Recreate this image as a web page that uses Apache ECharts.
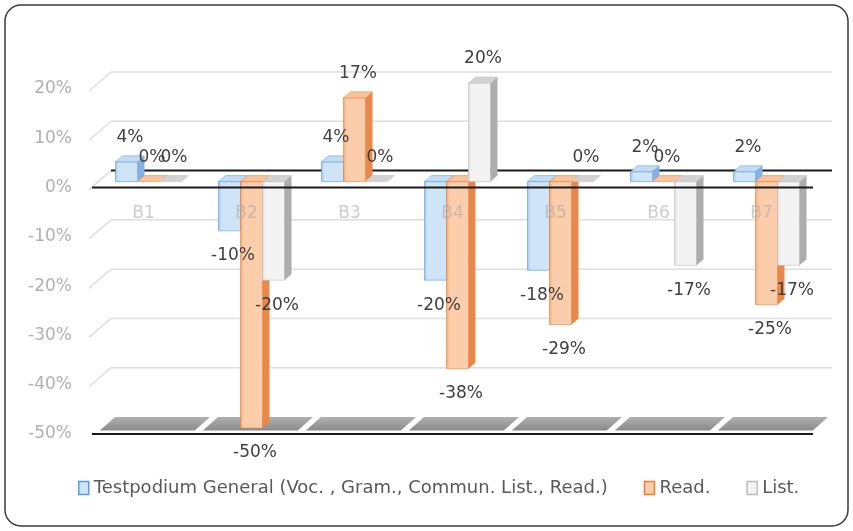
<!DOCTYPE html>
<html>
<head>
<meta charset="utf-8">
<script src="https://cdn.jsdelivr.net/npm/echarts@6/dist/echarts.min.js"></script>
<style>
  html, body { margin: 0; padding: 0; background: #fff; }
  #chart { width: 853px; height: 531px; }
</style>
</head>
<body>
<div id="chart"></div>
<script>
const categories = ["B1", "B2", "B3", "B4", "B5", "B6", "B7"];
const generalValues = [4, -10, 4, -20, -18, 2, 2];
const readValues = [0, -50, 17, -38, -29, 0, -25];
const listValues = [0, -20, 0, 20, 0, -17, -17];
const yTicks = [20, 10, 0, -10, -20, -30, -40, -50];
const seriesNames = [
  "Testpodium General (Voc. , Gram., Commun. List., Read.)",
  "Read.",
  "List.",
];

const FONT = "DejaVu Sans";
const Y_MIN = yTicks[yTicks.length - 1];
const Y_MAX = yTicks[0];
// depth offsets of the fake 3d look
const WALL_DX = 19, WALL_DY = -17;   // back wall
const BAR_DX = 5, BAR_DY = -6;       // bars sit in the middle
const SIDE_DX = 7, SIDE_DY = -6;     // bar thickness
const BAR_W = 22;
const GRID = { left: 92, right: 40, top: 89, bottom: 97 };

const palette = [
  { front: ["#9cc5ee", "#d0e4f8"], side: "#83b1e1", top: "#c3dcf4", edge: "#5b9bd5" },
  { front: ["#f4a46d", "#fbcdab"], side: "#e8884a", top: "#f9c39c", edge: "#ed7d31" },
  { front: ["#dedede", "#f3f3f3"], side: "#adadad", top: "#d2d2d2", edge: "#bdbdbd" },
];

function barBox(k, api) {
  const i = api.value(0);
  const v = api.value(1);
  const p0 = api.coord([i, 0]);
  const p1 = api.coord([i, v]);
  const x0 = p0[0] + BAR_DX - (BAR_W * 3) / 2 + k * BAR_W;
  return {
    v: v,
    x0: x0,
    x1: x0 + BAR_W,
    yTop: Math.min(p0[1], p1[1]) + BAR_DY,
    yBot: Math.max(p0[1], p1[1]) + BAR_DY,
  };
}

function barRenderer(k) {
  const c = palette[k];
  return function (params, api) {
    const b = barBox(k, api);
    const children = [];
    if (b.yBot - b.yTop > 0.5) {
      children.push({
        type: "rect",
        shape: { x: b.x0, y: b.yTop, width: BAR_W, height: b.yBot - b.yTop },
        style: {
          fill: new echarts.graphic.LinearGradient(0, 0, 1, 0, [
            { offset: 0, color: c.front[0] },
            { offset: 0.15, color: c.front[1] },
            { offset: 1, color: c.front[1] },
          ]),
          stroke: c.edge,
          lineWidth: 0.6,
        },
      });
      children.push({
        type: "polygon",
        shape: {
          points: [
            [b.x1, b.yTop], [b.x1 + SIDE_DX, b.yTop + SIDE_DY],
            [b.x1 + SIDE_DX, b.yBot + SIDE_DY], [b.x1, b.yBot],
          ],
        },
        style: { fill: c.side },
      });
    }
    children.push({
      type: "polygon",
      shape: {
        points: [
          [b.x0, b.yTop], [b.x0 + SIDE_DX, b.yTop + SIDE_DY],
          [b.x1 + SIDE_DX, b.yTop + SIDE_DY], [b.x1, b.yTop],
        ],
      },
      style: { fill: c.top, stroke: c.edge, lineWidth: 0.5 },
    });
    return { type: "group", children: children };
  };
}

function labelRenderer(k) {
  return function (params, api) {
    const b = barBox(k, api);
    return {
      type: "text",
      style: {
        text: b.v + "%",
        x: b.x0 + (BAR_W + SIDE_DX) / 2,
        y: b.v < 0 ? b.yBot + 25 : b.yTop + SIDE_DY - 18,
        align: "center",
        verticalAlign: "middle",
        fill: "#404040",
        fontSize: 17,
        fontFamily: FONT,
      },
    };
  };
}

function wallRenderer(params, api) {
  const v = api.value(1);
  const cs = params.coordSys;
  const y = api.coord([0, v])[1];
  const children = [];
  if (v === Y_MIN) {
    return { type: "group", children: children };
  }
  children.push({
    type: "line",
    shape: { x1: cs.x - 3, y1: y + 2, x2: cs.x + WALL_DX, y2: y + WALL_DY },
    style: { stroke: "#dedede", lineWidth: 1.5 },
  });
  children.push({
    type: "line",
    shape: {
      x1: cs.x + WALL_DX, y1: y + WALL_DY,
      x2: cs.x + cs.width + WALL_DX, y2: y + WALL_DY,
    },
    style: v === 0 ? { stroke: "#1a1a1a", lineWidth: 2 } : { stroke: "#dedede", lineWidth: 1.5 },
  });
  return { type: "group", children: children };
}

function floorRenderer(params, api) {
  const i = api.value(0);
  const p = api.coord([i, api.value(1)]);
  const w = api.size([1, 0])[0];
  const a = 0.2, b = 1.0;
  const xl = p[0] - w / 2 + 4, xr = p[0] + w / 2 - 4;
  return {
    type: "polygon",
    shape: {
      points: [
        [xl + WALL_DX * a, p[1] + WALL_DY * a],
        [xl + WALL_DX * b, p[1] + WALL_DY * b],
        [xr + WALL_DX * b, p[1] + WALL_DY * b],
        [xr + WALL_DX * a, p[1] + WALL_DY * a],
      ],
    },
    style: {
      fill: new echarts.graphic.LinearGradient(0, 1, 0, 0, [
        { offset: 0, color: "#8a8a8a" },
        { offset: 1, color: "#b0b0b0" },
      ]),
    },
  };
}

function frontLineRenderer(params, api) {
  const cs = params.coordSys;
  const y = api.coord([0, api.value(1)])[1];
  return {
    type: "line",
    shape: { x1: cs.x, y1: y, x2: cs.x + cs.width, y2: y },
    style: { stroke: "#1a1a1a", lineWidth: 2 },
  };
}

const chart = echarts.init(document.getElementById("chart"));

const allValues = [generalValues, readValues, listValues];

const barSeries = allValues.map(function (vals, k) {
  return {
    name: seriesNames[k],
    type: "custom",
    z: 3,
    clip: false,
    renderItem: barRenderer(k),
    itemStyle: { color: palette[k].edge },
    encode: { x: 0, y: 1 },
    data: vals.map(function (v, i) { return [i, v]; }),
  };
});

const labelSeries = allValues.map(function (vals, k) {
  return {
    type: "custom",
    z: 6,
    silent: true,
    clip: false,
    renderItem: labelRenderer(k),
    encode: { x: 0, y: 1 },
    data: vals.map(function (v, i) { return [i, v]; }),
  };
});

// put the category labels on the 0 line
const gridH = 531 - GRID.top - GRID.bottom;
const zeroOffset = -((0 - Y_MIN) / (Y_MAX - Y_MIN)) * gridH;

chart.setOption({
  animation: false,
  textStyle: { fontFamily: FONT },
  graphic: [
    {
      type: "rect",
      shape: { x: 5, y: 5, width: 843, height: 521, r: 16 },
      style: { fill: "none", stroke: "#3a3a3a", lineWidth: 1.5 },
      z: 0,
    },
  ],
  grid: GRID,
  legend: {
    left: 73,
    top: 474,
    itemGap: 36,
    itemWidth: 10,
    itemHeight: 13,
    textStyle: { color: "#595959", fontSize: 18, fontFamily: FONT },
    data: seriesNames.map(function (n, k) {
      return {
        name: n,
        icon: "rect",
        itemStyle: { color: palette[k].front[1], borderColor: palette[k].edge, borderWidth: 1.5 },
      };
    }),
  },
  xAxis: {
    type: "category",
    data: categories,
    offset: zeroOffset,
    z: 4,
    axisLine: { show: false },
    axisTick: { show: false },
    axisLabel: { color: "rgba(170,170,170,0.6)", fontSize: 17, margin: 18, fontFamily: FONT },
    splitLine: { show: false },
  },
  yAxis: {
    type: "value",
    min: Y_MIN,
    max: Y_MAX,
    interval: 10,
    axisLine: { show: false },
    axisTick: { show: false },
    splitLine: { show: false },
    axisLabel: {
      color: "#b0b0b0",
      fontSize: 17,
      margin: 20,
      fontFamily: FONT,
      formatter: function (v) { return v + "%"; },
    },
  },
  series: [
    {
      type: "custom",
      z: 1,
      silent: true,
      clip: false,
      renderItem: wallRenderer,
      encode: { x: 0, y: 1 },
      data: yTicks.map(function (t) { return [0, t]; }),
    },
    {
      type: "custom",
      z: 1,
      silent: true,
      clip: false,
      renderItem: floorRenderer,
      encode: { x: 0, y: 1 },
      data: categories.map(function (c, i) { return [i, Y_MIN]; }),
    },
  ].concat(barSeries, labelSeries, [
    {
      type: "custom",
      z: 5,
      silent: true,
      clip: false,
      renderItem: frontLineRenderer,
      encode: { x: 0, y: 1 },
      data: [[0, 0], [0, Y_MIN]],
    },
  ]),
});
</script>
</body>
</html>
